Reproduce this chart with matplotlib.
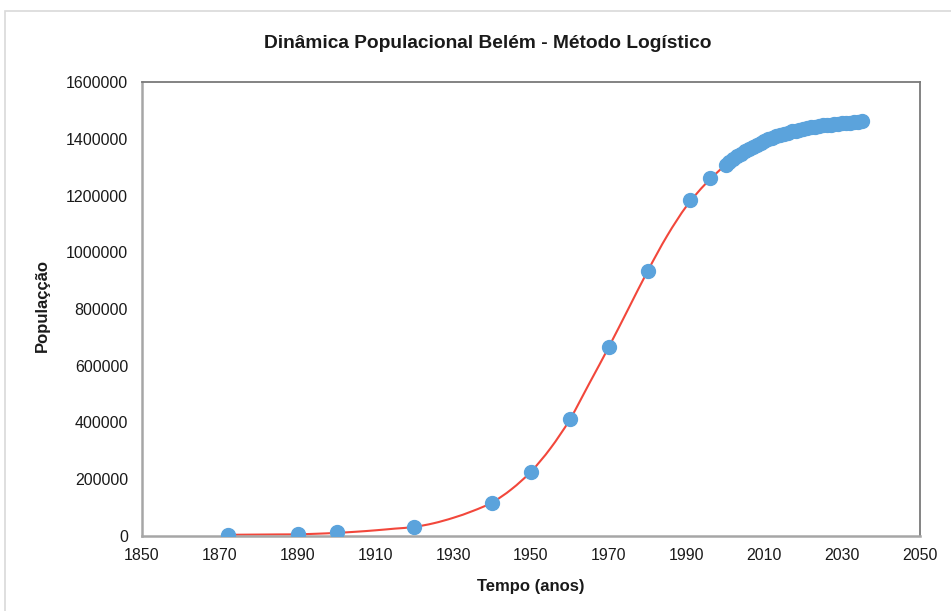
import numpy as np
import matplotlib.pyplot as plt
from matplotlib.patches import Rectangle, PathPatch
from matplotlib.path import Path

plt.rcParams['font.family'] = ['Liberation Sans', 'DejaVu Sans']

# OBSERVED / PROJECTED POINTS
anos_dados = [1872, 1890, 1900, 1920, 1940, 1950, 1960, 1970, 1980, 1991, 1996]
pop_dados = [4000, 6000, 13000, 32000, 118000, 227000, 411000, 666000,
             934000, 1183000, 1260000]

anos_proj = list(range(2000, 2036))
pop_proj = [1307000, 1318000, 1328000, 1338000, 1347000, 1356000, 1364000,
            1372000, 1379000, 1386000, 1393000, 1399000, 1404000, 1409000,
            1414000, 1418000, 1422000, 1426000, 1429000, 1432000, 1435000,
            1438000, 1440000, 1443000, 1445000, 1447000, 1449000, 1450000,
            1452000, 1453000, 1455000, 1456000, 1457000, 1458000, 1459000,
            1462000]

# LOGISTIC CURVE
anos_curva = [1872, 1875, 1880, 1885, 1890, 1895, 1900, 1905, 1910, 1915,
              1920, 1925, 1930, 1935, 1940, 1945, 1950, 1955, 1960, 1965,
              1970, 1975, 1980, 1985, 1990, 1995, 2000, 2005, 2010, 2015,
              2020, 2025, 2030, 2035]
pop_curva = [4000, 4500, 5000, 5500, 6000, 8000, 11000, 15000, 20000, 26000,
             32000, 45000, 64000, 88000, 118000, 165000, 227000, 309000,
             411000, 538000, 666000, 800000, 934000, 1058000, 1163000,
             1243000, 1307000, 1356000, 1393000, 1418000, 1435000, 1447000,
             1455000, 1462000]

x_ticks = list(range(1850, 2051, 20))
y_ticks = list(range(0, 1600001, 200000))


def smooth_path(xs, ys):
    # catmull-rom style bezier through the read points (like excel smoothed line)
    xs = np.asarray(xs, dtype=float)
    ys = np.asarray(ys, dtype=float)
    verts = [(xs[0], ys[0])]
    codes = [Path.MOVETO]
    n = len(xs)
    for i in range(n - 1):
        x0, y0 = (xs[i - 1], ys[i - 1]) if i > 0 else (xs[i], ys[i])
        x1, y1 = xs[i], ys[i]
        x2, y2 = xs[i + 1], ys[i + 1]
        x3, y3 = (xs[i + 2], ys[i + 2]) if i + 2 < n else (x2, y2)
        c1 = (x1 + (x2 - x0) / 6, y1 + (y2 - y0) / 6)
        c2 = (x2 - (x3 - x1) / 6, y2 - (y3 - y1) / 6)
        verts += [c1, c2, (x2, y2)]
        codes += [Path.CURVE4] * 3
    return Path(verts, codes)


fig = plt.figure(figsize=(9.51, 6.11), dpi=100)
fig.patch.set_facecolor("white")

# OUTER CHART FRAME
fig.patches.append(Rectangle(
    (5 / 951, -0.1), 1.2, 1.1 - 11 / 611,
    transform=fig.transFigure, fill=False,
    edgecolor="#d9d9d9", linewidth=1.2
))

ax = fig.add_axes([142 / 951, 1 - 536 / 611, 778 / 951, 454 / 611])

# RED LINE
ax.add_patch(PathPatch(smooth_path(anos_curva, pop_curva), facecolor="none",
                       edgecolor="#f2473b", linewidth=1.5, zorder=2))

# BLUE POINTS
azul = "#5ba3dc"
ax.plot(anos_dados, pop_dados, linestyle="none", marker="o", markersize=10,
        color=azul, markeredgecolor=azul, zorder=3)
ax.plot(anos_proj, pop_proj, linestyle="none", marker="o", markersize=10,
        color=azul, markeredgecolor=azul, zorder=3)

ax.set_xlim(1850, 2050)
ax.set_ylim(0, 1600000)
ax.set_xticks(x_ticks)
ax.set_yticks(y_ticks)
ax.set_xticklabels([str(v) for v in x_ticks])
ax.set_yticklabels([str(v) for v in y_ticks])
ax.tick_params(axis="both", length=0, labelsize=11.5, colors="#1a1a1a")
ax.tick_params(axis="x", pad=9)
ax.tick_params(axis="y", pad=10)

# SPINES
for side in ["left", "bottom"]:
    ax.spines[side].set_color("#a6a6a6")
    ax.spines[side].set_linewidth(1.8)
for side in ["top", "right"]:
    ax.spines[side].set_color("#7a7a7a")
    ax.spines[side].set_linewidth(1.3)

# TITLE AND LABELS
fig.text(0.5 * (263 + 712) / 951, 1 - 43 / 611,
         "Dinâmica Populacional Belém - Método Logístico",
         ha="center", va="center", fontsize=13.8, fontweight="bold",
         color="#1a1a1a")
fig.text(0.5 * (142 + 920) / 951, 1 - 587 / 611, "Tempo (anos)",
         ha="center", va="center", fontsize=12, fontweight="bold",
         color="#1a1a1a")
fig.text(42 / 951, 1 - 306 / 611, "Populaçção", rotation=90,
         ha="center", va="center", fontsize=12, fontweight="bold",
         color="#1a1a1a")

plt.savefig("out.png", dpi=100, facecolor=fig.get_facecolor())
plt.close()
